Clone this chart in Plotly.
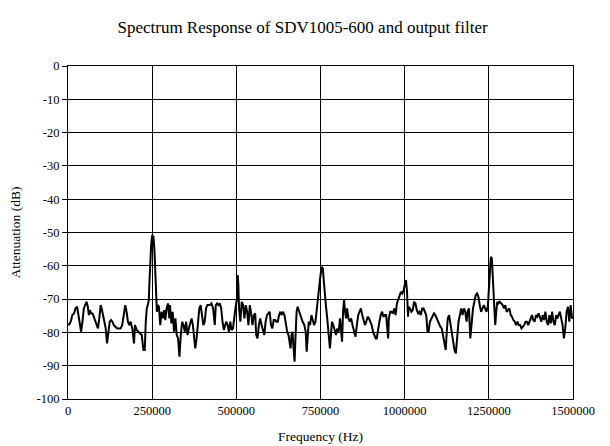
import plotly.graph_objects as go

# Frequency (Hz) and attenuation (dB)
freq_hz = [
    0, 3000, 8000, 13000, 18000, 22000, 27000, 31000, 35000, 39000, 43000, 47000, 51000, 55000, 59000,
    62000, 65000, 69000, 73000, 77000, 81000, 85000, 89000, 93000, 97000, 101000, 105000, 108000, 112000,
    116000, 120000, 124000, 128000, 132000, 136000, 141000, 146000, 151000, 156000, 161000, 166000, 170000,
    174000, 178000, 182000, 186000, 191000, 196000, 199000,
    204000, 209000, 214000, 219000, 224000, 228000, 231000, 234000, 237000, 240000, 242000, 244000, 247000,
    250000, 254000, 257000, 260000, 262000, 264000, 267000, 270000, 274000, 278000, 282000, 286000, 289000,
    293000, 297000, 301000, 303000, 307000, 311000, 315000, 319000, 323000, 327000, 331000, 335000, 339000,
    343000, 347000, 351000, 355000, 359000, 363000, 367000, 371000, 375000, 378000, 382000, 386000, 390000,
    394000, 398000, 402000, 406000, 410000, 414000, 418000,
    421000, 426000, 431000, 436000, 439000, 443000, 447000, 451000, 455000, 459000, 463000, 467000, 470000,
    474000, 478000, 482000, 486000, 490000, 494000, 498000, 502000, 504000, 506000, 508000, 512000, 516000,
    520000, 524000, 528000, 532000, 536000, 540000, 544000, 548000, 552000, 556000, 559000, 563000, 567000,
    571000, 575000, 579000, 583000, 587000, 591000, 595000, 599000, 603000, 607000, 611000, 615000, 619000,
    623000, 627000, 631000, 635000,
    638000, 643000, 647000, 651000, 655000, 659000, 661000, 664000, 667000, 670000, 673000, 676000, 679000,
    682000, 687000, 692000, 697000, 702000, 706000, 709000, 712000, 715000, 719000, 723000, 727000, 731000,
    735000, 738000, 742000, 746000, 750000, 754000, 757000, 760000, 763000, 766000, 770000, 774000, 778000,
    781000, 784000, 788000, 792000, 796000, 800000, 804000, 808000, 811000, 814000, 817000, 820000, 823000,
    826000, 829000, 833000, 837000, 841000, 845000, 849000,
    854000, 858000, 862000, 866000, 870000, 874000, 878000, 882000, 886000, 890000, 894000, 898000, 902000,
    906000, 910000, 914000, 917000, 921000, 925000, 929000, 933000, 937000, 941000, 945000, 949000, 951000,
    953000, 957000, 961000, 965000, 969000, 973000, 977000, 981000, 985000, 989000, 993000, 997000, 1001000,
    1004000, 1007000, 1008000, 1010000, 1012000, 1016000, 1020000, 1024000, 1028000, 1032000, 1036000,
    1040000, 1044000, 1048000, 1052000, 1056000, 1060000, 1064000, 1068000,
    1071000, 1075000, 1079000, 1083000, 1087000, 1091000, 1095000, 1098000, 1102000, 1106000, 1110000,
    1114000, 1118000, 1122000, 1125000, 1128000, 1132000, 1136000, 1140000, 1144000, 1148000, 1152000,
    1156000, 1160000, 1164000, 1168000, 1172000, 1176000, 1180000, 1184000, 1187000, 1191000, 1195000,
    1199000, 1203000, 1207000, 1211000, 1215000, 1219000, 1223000, 1227000, 1231000, 1235000, 1239000,
    1243000, 1247000, 1250000, 1253000, 1256000, 1259000, 1262000, 1265000, 1269000, 1272000, 1275000,
    1278000, 1282000,
    1287000, 1291000, 1295000, 1299000, 1303000, 1307000, 1311000, 1315000, 1319000, 1323000, 1327000,
    1331000, 1335000, 1339000, 1343000, 1347000, 1351000, 1355000, 1359000, 1363000, 1367000, 1370000,
    1374000, 1378000, 1382000, 1386000, 1390000, 1394000, 1398000, 1402000, 1406000, 1410000, 1414000,
    1418000, 1422000, 1426000, 1430000, 1434000, 1438000, 1442000, 1446000, 1450000, 1454000, 1457000,
    1461000, 1465000, 1469000, 1473000, 1477000, 1481000, 1485000, 1489000, 1493000, 1497000, 1500000,
]

attenuation_db = [
    -77.3, -77.8, -76.8, -74.8, -74.3, -72.8, -72.3, -74.8, -77.8, -79.8, -76.8, -72.8, -71.8, -70.8, -72.3,
    -74.8, -73.3, -74.3, -74.3, -75.3, -76.3, -77.8, -78.8, -75.8, -71.8, -73.3, -75.8, -76.8, -78.8,
    -83.3, -78.8, -76.8, -76.3, -76.8, -77.8, -78.3, -78.8, -78.8, -78.8, -77.8, -73.8, -71.8,
    -73.8, -76.8, -77.8, -76.8, -78.8, -83.3, -77.8,
    -79.3, -79.8, -80.3, -80.8, -85.3, -85.3, -76.8, -72.8, -71.8, -70.3, -64.8, -58.8, -53.8,
    -50.8, -51.3, -55.8, -62.8, -68.8, -73.8, -71.8, -72.3, -77.8, -73.8, -75.8, -73.3, -76.3,
    -72.8, -71.3, -75.8, -71.8, -77.3, -73.8, -79.8, -75.8, -80.8, -81.8, -87.3, -80.8, -76.8,
    -77.8, -79.8, -76.8, -80.8, -78.8, -76.8, -75.8, -77.8, -81.8, -84.8, -81.8, -76.8, -72.8,
    -71.8, -75.8, -77.8, -76.8, -72.8, -71.8, -71.8,
    -71.8, -71.3, -72.8, -77.8, -71.8, -71.3, -71.8, -71.3, -72.8, -76.8, -79.3, -77.8, -76.8,
    -77.8, -79.8, -76.8, -79.3, -78.8, -74.8, -72.3, -69.8, -62.8, -65.8, -72.8, -76.8, -70.8,
    -71.8, -75.8, -71.8, -73.8, -77.8, -71.8, -74.3, -77.8, -74.8, -74.3, -80.8, -81.8, -77.8,
    -75.8, -77.8, -79.8, -80.8, -76.8, -74.8, -74.3, -73.8, -77.8, -78.8, -76.3, -76.3, -76.8,
    -76.8, -74.8, -73.8, -74.8,
    -73.8, -74.8, -77.8, -79.8, -80.8, -83.8, -84.8, -80.8, -79.8, -84.8, -88.8, -80.8, -73.8,
    -72.3, -73.8, -75.8, -76.8, -77.8, -79.8, -85.8, -79.8, -76.8, -77.8, -74.8, -76.3, -77.8,
    -76.8, -73.8, -70.8, -67.8, -62.8, -60.3, -60.8, -64.8, -69.8, -71.8, -75.8, -79.8, -84.8,
    -80.8, -76.8, -77.8, -79.8, -80.8, -78.8, -79.8, -75.8, -79.8, -82.8, -73.8, -70.3, -73.8,
    -75.8, -72.8, -75.8, -76.8, -75.8, -77.8, -79.8,
    -81.3, -77.8, -74.8, -73.8, -72.8, -74.8, -76.8, -77.8, -76.8, -75.3, -75.8, -76.8, -77.8,
    -79.8, -80.8, -81.8, -81.8, -78.8, -76.8, -74.8, -73.8, -75.3, -74.8, -74.8, -81.8, -81.8,
    -75.8, -73.8, -73.8, -74.3, -72.8, -74.8, -71.3, -70.3, -68.8, -67.8, -68.3, -67.3, -65.3,
    -64.3, -67.8, -73.3, -75.3, -72.3, -72.8, -73.8, -73.3, -70.8, -71.3, -73.3,
    -74.3, -73.8, -74.8, -72.8, -72.8, -73.8, -74.8, -79.8,
    -79.8, -76.8, -75.8, -74.8, -74.3, -74.8, -75.8, -76.3, -77.8, -78.3, -78.8,
    -80.8, -83.8, -85.3, -79.8, -75.8, -74.8, -77.8, -79.8, -82.8, -85.3, -86.3,
    -80.8, -76.8, -74.8, -72.8, -74.8, -72.8, -73.8, -76.8, -73.8, -72.8, -81.8,
    -75.8, -72.8, -70.8, -68.8, -68.3, -69.3, -71.8, -73.8, -72.8, -71.8, -72.8,
    -73.8, -72.3, -67.8, -60.8, -57.3, -57.8, -62.8, -70.8, -77.8, -73.8, -70.8,
    -71.3, -70.8,
    -71.3, -71.8, -72.8, -71.8, -73.8, -73.3, -72.8, -74.8, -75.3, -76.3, -76.8,
    -77.8, -76.8, -77.8, -77.8, -78.8, -78.3, -77.8, -76.8, -76.8, -77.8, -76.8,
    -75.8, -74.8, -76.3, -76.8, -74.8, -75.3, -74.3, -75.8, -76.8, -74.8, -76.3,
    -73.8, -76.8, -77.8, -74.8, -77.3, -73.8, -76.8, -77.8, -74.8, -75.8, -74.8,
    -73.8, -75.8, -77.8, -81.8, -78.8, -73.8, -72.3, -76.8, -71.8, -75.8, -75.5,
]

x_ticks = [0, 250000, 500000, 750000, 1000000, 1250000, 1500000]
x_tick_labels = ["0", "250000", "500000", "750000", "1000000", "1250000", "1500000"]
y_ticks = [0, -10, -20, -30, -40, -50, -60, -70, -80, -90, -100]
y_tick_labels = ["0", "-10", "-20", "-30", "-40", "-50", "-60", "-70", "-80", "-90", "-100"]

SERIF = "Liberation Serif"

fig = go.Figure()
fig.add_trace(go.Scatter(
    x=freq_hz, y=attenuation_db, mode="lines",
    line=dict(color="black", width=2), showlegend=False, hoverinfo="x+y",
))

fig.update_layout(
    width=610, height=446,
    margin=dict(l=68, r=37, t=66, b=47, autoexpand=False),
    paper_bgcolor="white", plot_bgcolor="white",
    font=dict(family=SERIF, color="black", size=12),
    title=dict(
        text="Spectrum Response of SDV1005-600 and output filter",
        x=0.496, xanchor="center", y=0.94, yanchor="middle",
        font=dict(family=SERIF, size=17, color="black"),
    ),
)
fig.update_xaxes(
    range=[0, 1500000], tickmode="array", tickvals=x_ticks, ticktext=x_tick_labels,
    showgrid=True, gridcolor="black", gridwidth=1,
    showline=True, linecolor="black", linewidth=1, mirror=True,
    ticks="", zeroline=False, automargin=False,
    title=dict(text="Frequency (Hz)", font=dict(family=SERIF, size=13.5), standoff=14),
    tickfont=dict(family=SERIF, size=12.5),
)
fig.update_yaxes(
    range=[-100, 0], tickmode="array", tickvals=y_ticks, ticktext=y_tick_labels,
    showgrid=True, gridcolor="black", gridwidth=1,
    showline=True, linecolor="black", linewidth=1, mirror=True,
    ticks="outside", ticklen=5, tickcolor="black", zeroline=False, automargin=False,
    title=dict(text="Attenuation (dB)", font=dict(family=SERIF, size=13.5), standoff=12),
    tickfont=dict(family=SERIF, size=12.5),
)

fig.write_html(
    "out.html",
    config={"displayModeBar": False},
    post_script="document.body.style.margin='0';",
)
